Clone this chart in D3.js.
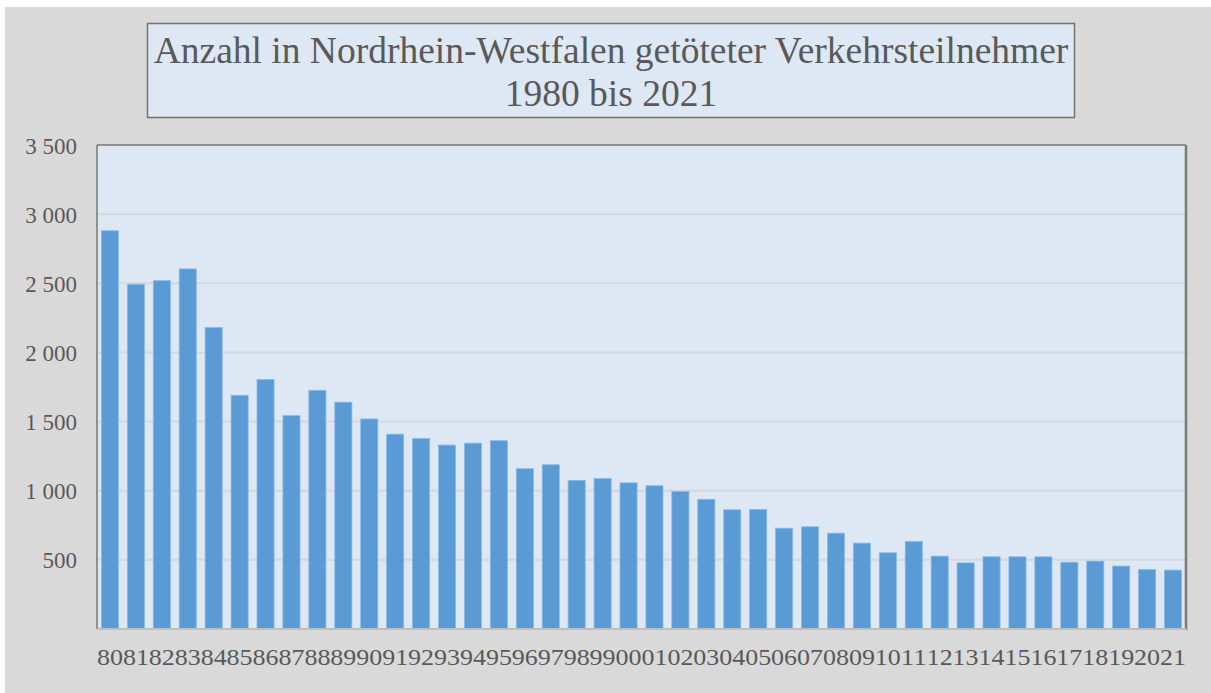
<!DOCTYPE html>
<html>
<head>
<meta charset="utf-8">
<script src="https://cdn.jsdelivr.net/npm/d3@7"></script>
<style>
  html, body { margin: 0; padding: 0; background: #ffffff; }
  svg { display: block; }
</style>
</head>
<body>
<svg id="chart" width="1211" height="693"></svg>
<script>
// ---- data ----
const years = ["80","81","82","83","84","85","86","87","88","89",
               "90","91","92","93","94","95","96","97","98","99",
               "00","01","02","03","04","05","06","07","08","09",
               "10","11","12","13","14","15","16","17","18","19",
               "20","21"];
const killed = [2880,2493,2519,2604,2180,1690,1805,1543,1726,1640,
                1519,1409,1378,1330,1344,1362,1159,1188,1075,1089,
                1057,1036,995,938,862,865,729,739,693,621,
                551,634,527,478,522,522,522,483,491,455,
                430,426];
const yTicks = [500,1000,1500,2000,2500,3000,3500];
const titleLines = ["Anzahl in Nordrhein-Westfalen getöteter Verkehrsteilnehmer", "1980 bis 2021"];

// ---- drawing ----
const svg = d3.select("#chart");
const font = "'Liberation Serif', 'Times New Roman', serif";
const textColor = "#595959";

// outer background
svg.append("rect").attr("x", 5).attr("y", 7).attr("width", 1206).attr("height", 686)
  .attr("fill", "#d9d9d9");

const plot = {left: 97, right: 1186, top: 145, bottom: 629};

const x = d3.scaleBand().domain(years).range([plot.left, plot.right])
  .paddingInner(0.34).paddingOuter(0.17);
const y = d3.scaleLinear().domain([0, 3500]).range([plot.bottom, plot.top]);

// plot area background
svg.append("rect").attr("x", plot.left).attr("y", plot.top)
  .attr("width", plot.right - plot.left).attr("height", plot.bottom - plot.top)
  .attr("fill", "#dde8f4");

// gridlines
svg.append("g").selectAll("line").data(yTicks.filter(d => d < 3500)).join("line")
  .attr("x1", plot.left).attr("x2", plot.right)
  .attr("y1", d => y(d)).attr("y2", d => y(d))
  .attr("stroke", "#d5d7da").attr("stroke-width", 2);

// bars
svg.append("g").selectAll("rect").data(years).join("rect")
  .attr("x", (d) => x(d))
  .attr("y", (d, i) => y(killed[i]))
  .attr("width", x.bandwidth())
  .attr("height", (d, i) => y(0) - y(killed[i]))
  .attr("fill", "#5b9bd5")
  .attr("stroke", "#8db9e3").attr("stroke-width", 0.8);

// frame
svg.append("line").attr("x1", plot.left).attr("x2", plot.left)
  .attr("y1", plot.top).attr("y2", plot.bottom).attr("stroke", "#777").attr("stroke-width", 1.5);
svg.append("line").attr("x1", plot.left).attr("x2", plot.right)
  .attr("y1", plot.top).attr("y2", plot.top).attr("stroke", "#777").attr("stroke-width", 1.5);
svg.append("line").attr("x1", plot.right).attr("x2", plot.right)
  .attr("y1", plot.top).attr("y2", plot.bottom + 1).attr("stroke", "#7a7a7a").attr("stroke-width", 2.5);
svg.append("line").attr("x1", plot.left).attr("x2", plot.right)
  .attr("y1", plot.bottom).attr("y2", plot.bottom).attr("stroke", "#bfbfbf").attr("stroke-width", 2);

// y axis labels
const yAxis = d3.axisLeft(y).tickValues(yTicks).tickSize(0).tickPadding(0)
  .tickFormat(d => d3.format(",")(d).replace(",", " "));
const yg = svg.append("g").attr("transform", `translate(77,0)`).call(yAxis);
yg.select(".domain").remove();
yg.selectAll("text").attr("font-family", font).attr("font-size", 23)
  .attr("fill", textColor).attr("dy", "0.35em").attr("x", 0);

// x axis labels
const xAxis = d3.axisBottom(x).tickSize(0).tickPadding(0);
const xg = svg.append("g").attr("transform", `translate(0,${plot.bottom})`).call(xAxis);
xg.select(".domain").remove();
xg.selectAll("text").attr("font-family", font).attr("font-size", 24)
  .attr("fill", textColor).attr("dy", 0).attr("y", 36)
  .attr("textLength", 26).attr("lengthAdjust", "spacingAndGlyphs");

// title box
svg.append("rect").attr("x", 147.5).attr("y", 23.5).attr("width", 927).attr("height", 94)
  .attr("fill", "#dde8f4").attr("stroke", "#737373").attr("stroke-width", 1.5);
svg.append("g").selectAll("text").data(titleLines).join("text")
  .attr("x", 611).attr("y", (d, i) => 63 + i * 43)
  .attr("text-anchor", "middle")
  .attr("font-family", font).attr("font-size", 37.5)
  .attr("fill", textColor)
  .text(d => d);
</script>
</body>
</html>
